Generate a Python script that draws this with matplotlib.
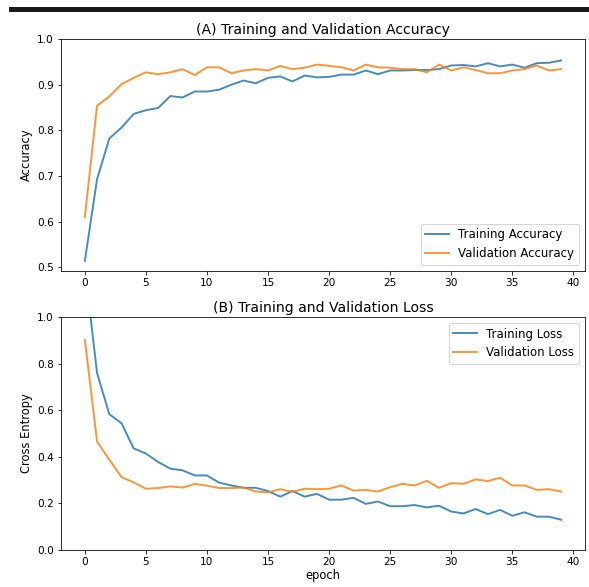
import matplotlib
matplotlib.use('Agg')
import matplotlib.pyplot as plt
from matplotlib.patches import Rectangle

plt.rcParams['font.size'] = 10.5
plt.rcParams['axes.titlesize'] = 14
plt.rcParams['axes.labelsize'] = 11.5
plt.rcParams['legend.fontsize'] = 11.8

# values
acc = [0.514, 0.693, 0.782, 0.806, 0.836, 0.844, 0.849, 0.875, 0.872, 0.885,
       0.885, 0.889, 0.900, 0.909, 0.903, 0.915, 0.918, 0.907, 0.920, 0.916,
       0.917, 0.922, 0.922, 0.931, 0.923, 0.931, 0.931, 0.932, 0.932, 0.934,
       0.942, 0.943, 0.940, 0.947, 0.940, 0.944, 0.937, 0.947, 0.948, 0.953]
val_acc = [0.610, 0.854, 0.874, 0.901, 0.915, 0.927, 0.923, 0.927, 0.934, 0.921,
           0.938, 0.938, 0.925, 0.931, 0.934, 0.931, 0.941, 0.934, 0.937, 0.944,
           0.941, 0.938, 0.931, 0.944, 0.938, 0.937, 0.934, 0.934, 0.927, 0.944,
           0.931, 0.938, 0.932, 0.925, 0.925, 0.931, 0.934, 0.942, 0.931, 0.934]
loss = [1.21, 0.760, 0.583, 0.544, 0.436, 0.414, 0.378, 0.349, 0.342, 0.320,
        0.320, 0.289, 0.277, 0.267, 0.267, 0.253, 0.229, 0.253, 0.229, 0.241,
        0.216, 0.216, 0.224, 0.198, 0.208, 0.188, 0.188, 0.193, 0.183, 0.190,
        0.165, 0.157, 0.176, 0.154, 0.172, 0.147, 0.162, 0.143, 0.143, 0.130]
val_loss = [0.902, 0.465, 0.388, 0.313, 0.290, 0.263, 0.266, 0.273, 0.268, 0.284,
            0.276, 0.266, 0.266, 0.268, 0.251, 0.247, 0.261, 0.250, 0.263, 0.261,
            0.263, 0.277, 0.255, 0.258, 0.251, 0.270, 0.284, 0.277, 0.297, 0.267,
            0.287, 0.284, 0.303, 0.296, 0.310, 0.277, 0.277, 0.258, 0.261, 0.251]
epochs = range(len(acc))

fig = plt.figure(figsize=(589/72, 587/72), dpi=72)

# dark strip at the top of the screenshot
fig.patches.append(Rectangle((9/589, 1-11/587), 1, 4/587, transform=fig.transFigure,
                             color='#1a1a1a', zorder=0))

lw = 1.9
ax1 = fig.add_axes([0.1036, 0.5383, 0.8896, 0.3953])
ax1.plot(epochs, acc, label='Training Accuracy', lw=lw, alpha=0.85)
ax1.plot(epochs, val_acc, label='Validation Accuracy', lw=lw, alpha=0.85)
ax1.legend(loc='lower right')
ax1.set_ylabel('Accuracy')
ax1.set_ylim([min(ax1.get_ylim()), 1])
ax1.set_title('(A) Training and Validation Accuracy', pad=5)

ax2 = fig.add_axes([0.1036, 0.063, 0.8896, 0.397])
ax2.plot(epochs, loss, label='Training Loss', lw=lw, alpha=0.85)
ax2.plot(epochs, val_loss, label='Validation Loss', lw=lw, alpha=0.85)
ax2.legend(loc='upper right')
ax2.set_ylabel('Cross Entropy')
ax2.set_ylim([0, 1.0])
ax2.set_title('(B) Training and Validation Loss', pad=5)
ax2.set_xlabel('epoch', labelpad=2)

fig.savefig('out.png', dpi=72)
